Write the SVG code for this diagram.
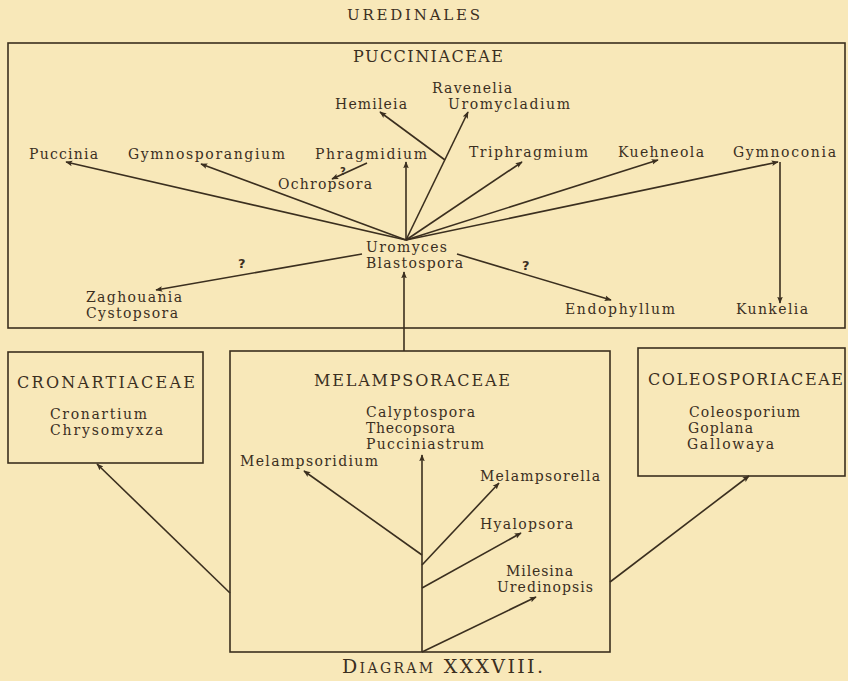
<svg xmlns="http://www.w3.org/2000/svg" width="848" height="681" viewBox="0 0 848 681">
<style>
text{font-family:"DejaVu Serif","Liberation Serif",serif;font-size:14px;fill:#3b2f1f}
.cap{font-size:16px}
.q{font-family:"DejaVu Sans",sans-serif;font-size:10px;font-weight:bold}
.box{fill:none;stroke:#3b2f1f;stroke-width:1.6}
.ln{fill:none;stroke:#3b2f1f;stroke-width:1.6;marker-end:url(#ah)}
</style>
<defs>
<marker id="ah" viewBox="0 0 10 10" refX="9" refY="5" markerWidth="7" markerHeight="7" markerUnits="userSpaceOnUse" orient="auto">
<path d="M0,1 L10,5 L0,9 L2,5 Z" fill="#3b2f1f"/>
</marker>
</defs>
<rect width="848" height="681" fill="#f8e8b9"/>
<text x="347" y="20" textLength="133" class="cap" style="font-size:15px">UREDINALES</text>

<g id="pucciniaceae">
<rect class="box" x="8" y="43" width="837" height="285"/>
<text x="353" y="62" textLength="150" class="cap">PUCCINIACEAE</text>
</g>
<g id="hemileia"><text x="335" y="109" textLength="72">Hemileia</text></g>
<g id="ravenelia"><text x="432" y="93" textLength="80">Ravenelia</text><text x="448" y="109" textLength="122">Uromycladium</text></g>
<g id="puccinia"><text x="29" y="159" textLength="69">Puccinia</text></g>
<g id="gymnosporangium"><text x="128" y="159" textLength="157">Gymnosporangium</text></g>
<g id="phragmidium"><text x="315" y="159" textLength="112">Phragmidium</text></g>
<g id="ochropsora"><text x="278" y="189" textLength="94">Ochropsora</text></g>
<g id="triphragmium"><text x="469" y="157" textLength="119">Triphragmium</text></g>
<g id="kuehneola"><text x="618" y="157" textLength="86">Kuehneola</text></g>
<g id="gymnoconia"><text x="733" y="157" textLength="103">Gymnoconia</text></g>
<g id="uromyces"><text x="366" y="252" textLength="81">Uromyces</text><text x="366" y="268" textLength="97">Blastospora</text></g>
<g id="zaghouania"><text x="86" y="302" textLength="96">Zaghouania</text><text x="86" y="318" textLength="92">Cystopsora</text></g>
<g id="endophyllum"><text x="565" y="314" textLength="110">Endophyllum</text></g>
<g id="kunkelia"><text x="736" y="314" textLength="72">Kunkelia</text></g>

<g id="cronartiaceae">
<rect class="box" x="8" y="352" width="195" height="111"/>
<text x="17" y="388" textLength="178" class="cap">CRONARTIACEAE</text>
<text x="50" y="419" textLength="97">Cronartium</text>
<text x="50" y="435" textLength="113">Chrysomyxza</text>
</g>
<g id="melampsoraceae">
<rect class="box" x="230" y="351" width="380" height="301"/>
<text x="314" y="386" textLength="196" class="cap">MELAMPSORACEAE</text>
</g>
<g id="calyptospora"><text x="366" y="417" textLength="109">Calyptospora</text><text x="366" y="433" textLength="89">Thecopsora</text><text x="366" y="449" textLength="118">Pucciniastrum</text></g>
<g id="melampsoridium"><text x="240" y="466" textLength="138">Melampsoridium</text></g>
<g id="melampsorella"><text x="480" y="481" textLength="120">Melampsorella</text></g>
<g id="hyalopsora"><text x="480" y="529" textLength="93">Hyalopsora</text></g>
<g id="milesina"><text x="506" y="576" textLength="67">Milesina</text><text x="497" y="592" textLength="96">Uredinopsis</text></g>
<g id="coleosporiaceae">
<rect class="box" x="638" y="348" width="207" height="128"/>
<text x="648" y="385" textLength="195" class="cap">COLEOSPORIACEAE</text>
<text x="689" y="417" textLength="111">Coleosporium</text>
<text x="688" y="433" textLength="65">Goplana</text>
<text x="687" y="449" textLength="87">Gallowaya</text>
</g>

<g id="connectors">
<line class="ln" x1="406" y1="240" x2="66" y2="162"/>
<line class="ln" x1="406" y1="240" x2="201" y2="164"/>
<line class="ln" x1="406" y1="240" x2="406" y2="162"/>
<line class="ln" x1="406" y1="240" x2="468" y2="112"/>
<line class="ln" x1="445" y1="160" x2="380" y2="112"/>
<line class="ln" x1="406" y1="240" x2="522" y2="162"/>
<line class="ln" x1="406" y1="240" x2="658" y2="160"/>
<line class="ln" x1="406" y1="240" x2="778" y2="162"/>
<line class="ln" x1="780" y1="162" x2="780" y2="303"/>
<line class="ln" x1="367" y1="163" x2="332" y2="179"/>
<line class="ln" x1="362" y1="254" x2="156" y2="290"/>
<line class="ln" x1="457" y1="254" x2="611" y2="300"/>
<line class="ln" x1="404" y1="351" x2="404" y2="272"/>
<line class="ln" x1="422" y1="652" x2="422" y2="455"/>
<line class="ln" x1="422" y1="555" x2="304" y2="471"/>
<line class="ln" x1="422" y1="565" x2="499" y2="483"/>
<line class="ln" x1="422" y1="588" x2="521" y2="533"/>
<line class="ln" x1="422" y1="652" x2="536" y2="597"/>
<line class="ln" x1="230" y1="593" x2="97" y2="464"/>
<line class="ln" x1="610" y1="582" x2="749" y2="476"/>
</g>
<text x="340" y="175" class="q">?</text>
<text x="238" y="268" class="q" style="font-size:13px">?</text>
<text x="522" y="270" class="q" style="font-size:13px">?</text>
<text x="342" y="673" textLength="201" style="font-size:19px">D<tspan style="font-size:14px">IAGRAM</tspan> XXXVIII.</text>
</svg>
